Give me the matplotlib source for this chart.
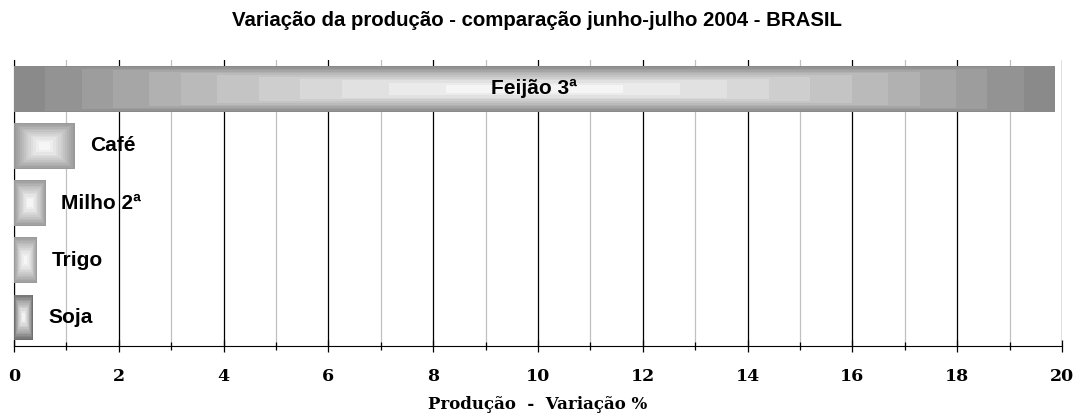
import matplotlib
matplotlib.use("Agg")
import matplotlib.pyplot as plt
import numpy as np
from matplotlib.colors import LinearSegmentedColormap

categorias = ["Feijão 3ª", "Café", "Milho 2ª", "Trigo", "Soja"]
variacao = [19.85, 1.15, 0.6, 0.42, 0.35]
cor_borda = ["#8a8a8a", "#9a9a9a", "#9a9a9a", "#9a9a9a", "#6e6e6e"]

fig = plt.figure(figsize=(10.75, 4.18), dpi=100)
ax = fig.add_axes([0.013, 0.172, 0.975, 0.684])

ypos = np.arange(len(categorias))
bars = ax.barh(ypos, variacao, height=0.8, color="none", edgecolor="none", zorder=3)

# rectangular gradient in steps: grey frame outside, white in the middle
n = 200
u = np.linspace(-1, 1, n)
uu, vv = np.meshgrid(u, u)
g = np.maximum(np.abs(uu), np.abs(vv)) ** 1.4
g = np.ceil(g * 12) / 12

for bar, borda in zip(bars, cor_borda):
    cmap = LinearSegmentedColormap.from_list("g", ["#ffffff", borda])
    x0, y0 = bar.get_x(), bar.get_y()
    w, h = bar.get_width(), bar.get_height()
    im = ax.imshow(g, cmap=cmap, vmin=0, vmax=1, extent=[x0, x0 + w, y0, y0 + h],
                   aspect="auto", origin="lower", zorder=3, interpolation="nearest")
    im.set_clip_path(bar)

# labels
ax.text(variacao[0] / 2, ypos[0], categorias[0], ha="center", va="center",
        fontsize=15, fontweight="bold", family="Liberation Sans", zorder=4)
for y, v, c in zip(ypos[1:], variacao[1:], categorias[1:]):
    ax.text(v + 0.3, y, c, ha="left", va="center", fontsize=15,
            fontweight="bold", family="Liberation Sans", zorder=4)

ax.set_xlim(0, 20)
ax.set_ylim(len(categorias) - 0.5, -0.5)
ax.set_xticks(np.arange(0, 21, 2))
ax.set_xticks(np.arange(1, 20, 2), minor=True)
ax.grid(True, which="major", axis="x", color="black", linewidth=0.9, zorder=1)
ax.grid(True, which="minor", axis="x", color="#c0c0c0", linewidth=0.9, zorder=1)
ax.set_yticks([])
for s in ["top", "right"]:
    ax.spines[s].set_visible(False)
ax.spines["left"].set_color("black")
ax.spines["bottom"].set_color("black")
ax.tick_params(axis="x", which="major", direction="inout", length=8, width=0.9, pad=12)
ax.tick_params(axis="x", which="minor", direction="inout", length=6, width=0.9)
for lbl in ax.get_xticklabels():
    lbl.set_family("DejaVu Serif")
    lbl.set_fontweight("bold")
    lbl.set_fontsize(12.5)

ax.set_xlabel("Produção  -  Variação %", family="DejaVu Serif", fontweight="bold",
              fontsize=12, labelpad=8)
fig.text(0.5, 0.952, "Variação da produção - comparação junho-julho 2004 - BRASIL",
         ha="center", va="center", fontsize=14.7, fontweight="bold", family="Liberation Sans")

fig.savefig("out.png", dpi=100)
